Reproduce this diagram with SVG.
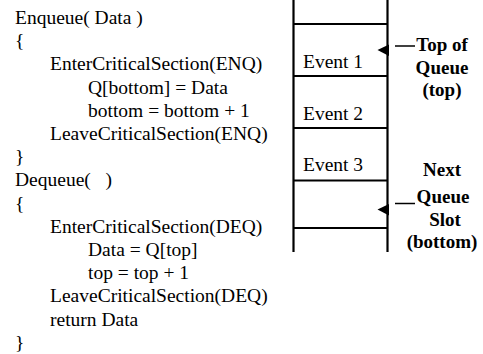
<svg xmlns="http://www.w3.org/2000/svg" width="483" height="354" viewBox="0 0 483 354">
<style>
.code{font-family:"Liberation Serif","Times New Roman",serif;font-size:19.5px;fill:#000;white-space:pre}
.lbl{font-family:"Liberation Serif","Times New Roman",serif;font-size:19px;font-weight:bold;fill:#000;text-anchor:middle}
.ev{font-family:"Liberation Serif","Times New Roman",serif;font-size:19.5px;fill:#000}
.wall{stroke:#000;stroke-width:2.2;fill:none}
.slot{stroke:#000;stroke-width:1.8;fill:none}
.lead{stroke:#000;stroke-width:1.5;fill:none}
</style>
<rect width="483" height="354" fill="#fff"/>
<g id="code">
<text class="code" x="15" y="24">Enqueue( Data )</text>
<text class="code" x="15" y="47.2">{</text>
<text class="code" x="50" y="70.4">EnterCriticalSection(ENQ)</text>
<text class="code" x="88" y="93.6">Q[bottom] = Data</text>
<text class="code" x="88" y="116.8">bottom = bottom + 1</text>
<text class="code" x="50" y="140">LeaveCriticalSection(ENQ)</text>
<text class="code" x="15" y="163.2">}</text>
<text class="code" x="15" y="186.4" xml:space="preserve">Dequeue(   )</text>
<text class="code" x="15" y="209.6">{</text>
<text class="code" x="50" y="232.8">EnterCriticalSection(DEQ)</text>
<text class="code" x="88" y="256">Data = Q[top]</text>
<text class="code" x="88" y="279.2">top = top + 1</text>
<text class="code" x="50" y="302.4">LeaveCriticalSection(DEQ)</text>
<text class="code" x="50" y="325.6">return Data</text>
<text class="code" x="15" y="348.8">}</text>
</g>
<g id="queue">
<line class="wall" x1="293.5" y1="0" x2="293.5" y2="252"/>
<line class="wall" x1="387.5" y1="0" x2="387.5" y2="252"/>
<line class="slot" x1="293.5" y1="24" x2="387.5" y2="24"/>
<line class="slot" x1="293.5" y1="76" x2="387.5" y2="76"/>
<line class="slot" x1="293.5" y1="128" x2="387.5" y2="128"/>
<line class="slot" x1="293.5" y1="180.5" x2="387.5" y2="180.5"/>
<line class="slot" x1="293.5" y1="228" x2="387.5" y2="228"/>
</g>
<g id="event1"><text class="ev" x="303" y="68">Event 1</text></g>
<g id="event2"><text class="ev" x="303" y="120">Event 2</text></g>
<g id="event3"><text class="ev" x="303" y="171">Event 3</text></g>
<g id="top-label">
<text class="lbl" x="442" y="51">Top of</text>
<text class="lbl" x="442" y="74">Queue</text>
<text class="lbl" x="442" y="96">(top)</text>
</g>
<g id="bottom-label">
<text class="lbl" x="442" y="176">Next</text>
<text class="lbl" x="443" y="203">Queue</text>
<text class="lbl" x="445" y="226">Slot</text>
<text class="lbl" x="442" y="248">(bottom)</text>
</g>
<g id="connectors">
<polygon points="377.5,50 389,44.5 389,56" fill="#000"/>
<line class="lead" x1="395" y1="46" x2="415" y2="46"/>
<polygon points="377.5,209.5 389,204 389,215.5" fill="#000"/>
<line class="lead" x1="395" y1="203.5" x2="415" y2="203.5"/>
</g>
</svg>
